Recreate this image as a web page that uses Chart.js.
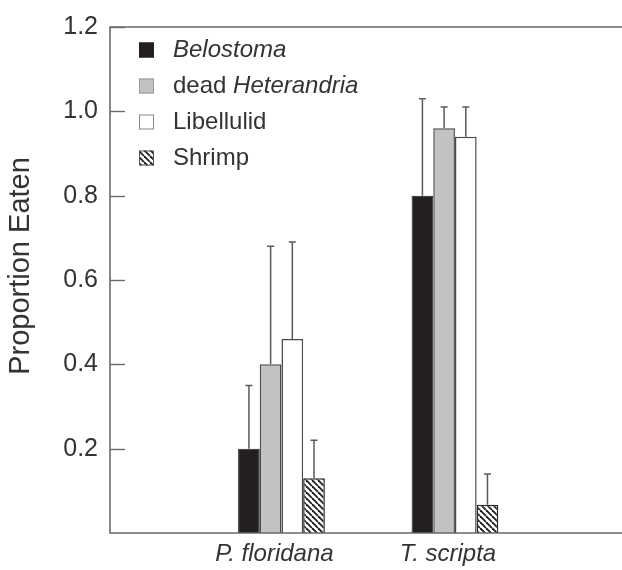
<!DOCTYPE html>
<html>
<head>
<meta charset="utf-8">
<script src="https://cdn.jsdelivr.net/npm/chart.js@4.4.1/dist/chart.umd.min.js"></script>
<style>
  html, body { margin: 0; padding: 0; background: #fff; }
  #wrap { width: 622px; height: 570px; position: relative; }
</style>
</head>
<body>
<div id="wrap"><canvas id="c" width="622" height="570"></canvas></div>
<script>
// Turtle species (x axis) and their positions on the linear x scale
const categories = ['P. floridana', 'T. scripta'];
const categoryPos = [1, 2];

// Prey types
const preyNames = ['Belostoma', 'dead Heterandria', 'Libellulid', 'Shrimp'];

// Mean proportion eaten per prey type, one value per turtle species
const belostoma   = [0.20, 0.80];
const heterandria = [0.40, 0.96];
const libellulid  = [0.46, 0.94];
const shrimp      = [0.13, 0.067];

// Upper error (added to the mean)
const belostomaErr   = [0.15, 0.23];
const heterandriaErr = [0.28, 0.05];
const libellulidErr  = [0.23, 0.07];
const shrimpErr      = [0.09, 0.073];

// Y axis tick values
const yTicks = [0.2, 0.4, 0.6, 0.8, 1.0, 1.2];

const FONT = '"Liberation Sans", Arial, Helvetica, sans-serif';
const TEXT = '#333333';
const AXIS = '#6a6a6a';

// Diagonal hatch for the shrimp bars
function hatchPattern() {
  const s = 6;
  const p = document.createElement('canvas');
  p.width = s; p.height = s;
  const g = p.getContext('2d');
  g.fillStyle = '#ffffff';
  g.fillRect(0, 0, s, s);
  g.strokeStyle = '#1e1e1e';
  g.lineWidth = 1.8;
  for (let k = -1; k <= 1; k++) {
    g.beginPath();
    g.moveTo(k * s, 0);
    g.lineTo(k * s + s, s);
    g.stroke();
  }
  return document.getElementById('c').getContext('2d').createPattern(p, 'repeat');
}
const hatch = hatchPattern();

function points(values) {
  return values.map((v, i) => ({ x: categoryPos[i], y: v }));
}

const datasets = [
  { label: preyNames[0], data: points(belostoma), err: belostomaErr,
    backgroundColor: '#231f20', borderColor: '#231f20', borderWidth: 1 },
  { label: preyNames[1], data: points(heterandria), err: heterandriaErr,
    backgroundColor: '#c2c2c4', borderColor: '#4a4a4a', borderWidth: 1.5 },
  { label: preyNames[2], data: points(libellulid), err: libellulidErr,
    backgroundColor: '#ffffff', borderColor: '#4a4a4a', borderWidth: 1.5 },
  { label: preyNames[3], data: points(shrimp), err: shrimpErr,
    backgroundColor: hatch, borderColor: '#2a2a2a', borderWidth: 1.5 }
];

// Legend entries: text runs with italic flags
const legendRuns = [
  [{ t: 'Belostoma', it: true }],
  [{ t: 'dead ', it: false }, { t: 'Heterandria', it: true }],
  [{ t: 'Libellulid', it: false }],
  [{ t: 'Shrimp', it: false }]
];
const legendBorders = ['#231f20', '#9a9a9a', '#8a8a8a', '#555555'];

const decorations = {
  id: 'decorations',
  afterDatasetsDraw(chart) {
    const ctx = chart.ctx;
    const y = chart.scales.y;
    // upward error bars with caps
    ctx.save();
    ctx.strokeStyle = '#5a5a5a';
    ctx.lineWidth = 1.5;
    chart.data.datasets.forEach((ds, di) => {
      const meta = chart.getDatasetMeta(di);
      meta.data.forEach((bar, j) => {
        const top = y.getPixelForValue(ds.data[j].y);
        const end = y.getPixelForValue(ds.data[j].y + ds.err[j]);
        ctx.beginPath();
        ctx.moveTo(bar.x, top);
        ctx.lineTo(bar.x, end);
        ctx.moveTo(bar.x - 3.5, end);
        ctx.lineTo(bar.x + 3.5, end);
        ctx.stroke();
      });
    });
    ctx.restore();
  },
  afterDraw(chart) {
    const ctx = chart.ctx;
    const a = chart.chartArea;
    const y = chart.scales.y;
    ctx.save();
    // frame: left, top, bottom
    ctx.strokeStyle = AXIS;
    ctx.lineWidth = 1.6;
    ctx.beginPath();
    ctx.moveTo(chart.width, a.top);
    ctx.lineTo(a.left, a.top);
    ctx.lineTo(a.left, a.bottom);
    ctx.lineTo(chart.width, a.bottom);
    ctx.stroke();
    // inward tick marks
    ctx.lineWidth = 1.4;
    yTicks.forEach(v => {
      const py = Math.round(y.getPixelForValue(v)) + 0.5;
      ctx.beginPath();
      ctx.moveTo(a.left, py);
      ctx.lineTo(a.left + 15, py);
      ctx.stroke();
    });
    // y axis title
    ctx.fillStyle = TEXT;
    ctx.font = '29px ' + FONT;
    ctx.textAlign = 'center';
    ctx.textBaseline = 'alphabetic';
    ctx.translate(29, 266);
    ctx.rotate(-Math.PI / 2);
    ctx.fillText('Proportion Eaten', 0, 0);
    ctx.restore();

    // legend
    ctx.save();
    const lx = 139, tx = 173, size = 15, gap = 36, y0 = 50;
    chart.data.datasets.forEach((ds, i) => {
      const cy = y0 + i * gap;
      ctx.fillStyle = ds.backgroundColor;
      ctx.fillRect(lx, cy - size / 2, size, size);
      ctx.strokeStyle = legendBorders[i];
      ctx.lineWidth = 1;
      ctx.strokeRect(lx + 0.5, cy - size / 2 + 0.5, size - 1, size - 1);
      let x = tx;
      ctx.fillStyle = TEXT;
      ctx.textBaseline = 'middle';
      ctx.textAlign = 'left';
      legendRuns[i].forEach(r => {
        ctx.font = (r.it ? 'italic ' : '') + '24px ' + FONT;
        ctx.fillText(r.t, x, cy);
        x += ctx.measureText(r.t).width;
      });
    });
    ctx.restore();
  }
};

new Chart(document.getElementById('c'), {
  type: 'bar',
  data: { datasets },
  options: {
    responsive: false,
    animation: false,
    devicePixelRatio: 1,
    layout: { padding: { top: 17, right: 0, bottom: 0, left: 0 } },
    plugins: { legend: { display: false }, tooltip: { enabled: false } },
    datasets: { bar: { categoryPercentage: 0.5, barPercentage: 1.0 } },
    scales: {
      x: {
        type: 'linear',
        offset: false,
        min: 0.0115,
        max: 2.963,
        afterBuildTicks(scale) { scale.ticks = categoryPos.map(v => ({ value: v })); },
        afterFit(scale) { scale.height = 37; },
        grid: { display: false, drawTicks: false, offset: false },
        border: { display: false },
        ticks: {
          callback: v => categories[categoryPos.indexOf(v)] || '',
          font: { family: FONT, size: 24, style: 'italic' },
          color: TEXT,
          padding: 7,
          labelOffset: -7,
          maxRotation: 0,
          autoSkip: false
        }
      },
      y: {
        min: 0,
        max: 1.2,
        afterBuildTicks(scale) { scale.ticks = yTicks.map(v => ({ value: v })); },
        afterFit(scale) { scale.width = 110; },
        grid: { display: false, drawTicks: false },
        border: { display: false },
        ticks: {
          callback: v => v.toFixed(1),
          font: { family: FONT, size: 25 },
          color: TEXT,
          padding: 12
        }
      }
    }
  },
  plugins: [decorations]
});
</script>
</body>
</html>
